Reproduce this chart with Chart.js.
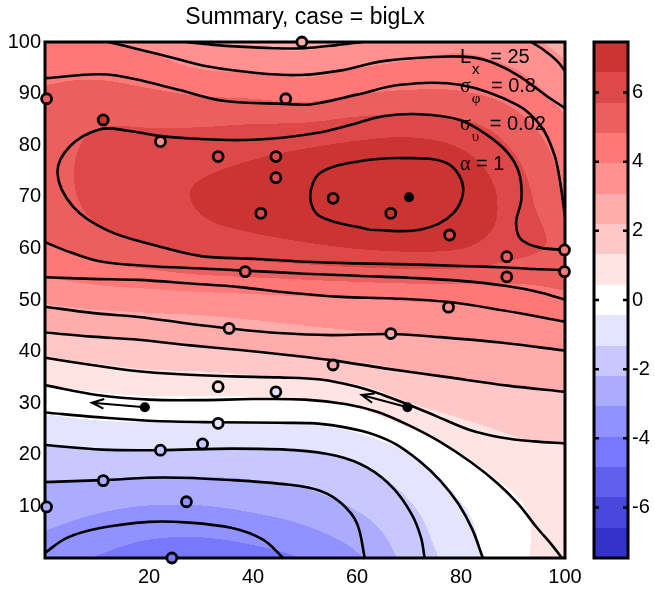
<!DOCTYPE html>
<html>
<head>
<meta charset="utf-8">
<script src="https://cdn.jsdelivr.net/npm/chart.js@4.4.0/dist/chart.umd.min.js"></script>
<style>
  html, body { margin: 0; padding: 0; background: #fff; }
</style>
</head>
<body>
<canvas id="chart" width="655" height="589"></canvas>
<script>
// ---- data ----
var titleText = 'Summary, case = bigLx';
var xTicks = [20, 40, 60, 80, 100];
var yTicks = [10, 20, 30, 40, 50, 60, 70, 80, 90, 100];
var cbTicks = [-6, -4, -2, 0, 2, 4, 6];

// filled field, one row per y value, columns at gridX
var gridX = [0, 10, 20, 30, 40, 50, 60, 70, 80, 90, 100];
var gridY = [0, 10, 20, 30, 40, 50, 60, 70, 80, 90, 100];
var field = [
  [-3.6, -4.0, -4.4, -4.5, -4.3, -3.9, -3.2, -1.9, -0.9, 0.2, 0.8],
  [-2.6, -2.9, -3.1, -3.1, -2.9, -2.6, -2.1, -1.4, -0.5, 0.3, 0.8],
  [-1.6, -1.5, -1.5, -1.5, -1.5, -1.4, -1.1, -0.5, 0.4, 1.0, 1.2],
  [-0.1, 0.1, 0.2, 0.2, 0.2, 0.3, 0.6, 1.3, 1.7, 1.9, 2.0],
  [1.5, 1.7, 1.9, 2.0, 2.2, 2.4, 2.55, 2.7, 2.8, 2.9, 3.0],
  [3.2, 3.4, 3.5, 3.6, 3.7, 3.8, 3.9, 4.0, 4.1, 4.25, 4.6],
  [4.7, 5.2, 5.6, 6.0, 6.2, 6.4, 6.6, 6.7, 6.6, 6.0, 5.5],
  [5.1, 6.0, 6.3, 6.65, 6.9, 7.1, 7.3, 7.4, 7.25, 6.2, 4.8],
  [5.15, 5.9, 6.0, 6.1, 6.3, 6.5, 6.7, 6.8, 6.5, 5.6, 4.4],
  [4.9, 5.1, 4.95, 4.75, 4.65, 4.5, 4.8, 4.95, 4.9, 4.5, 3.6],
  [4.3, 4.0, 3.7, 3.0, 2.85, 2.8, 3.1, 3.4, 3.7, 3.4, 2.8]
];
var bandLimit = 7.46;
var bandColors = ['#3333cc', '#4848dd', '#5f5feb', '#7878ff', '#9191ff', '#acacff', '#c8c8ff', '#e4e4ff',
  '#ffffff', '#ffe4e4', '#ffc8c8', '#ffacac', '#ff9191', '#ff7878', '#eb5f5f', '#dd4848', '#cc3333'];

// contour lines (x, y points)
var lineK0 = [[0,1],[4.2,3.9],[10.6,5.8],[20,7],[27,6.9],[36,5.8],[42,3.5],[45.8,0]];
var lineK1 = [[0,14.7],[11,15.1],[23,15.6],[36,15.1],[47,14.2],[53,13],[57,10.6],[60,6.7],[61.5,0]];
var lineK2 = [[0,21.9],[11,21],[22,20.9],[36,21.2],[48,20.9],[56,19.8],[62,17.5],[67,13.5],[70.5,8.5],[72.3,4],[73,0]];
var lineK3 = [[0,28.2],[10,27.3],[20,26.6],[33.3,26.3],[45,26.2],[53,26],[61,24.6],[67,22.3],[72,18.8],[76,15],[79.5,10.5],[82.2,5.5],[84.2,0]];
var lineK4 = [[0,33.5],[10,31.6],[20,30.7],[30,30.6],[40,30.8],[50,30.7],[58,29.8],[64,28.3],[70,25.7],[76,22.5],[82,18.5],[87,14.5],[91,10.5],[94.5,6],[97.5,2.5],[99.4,0]];
var lineK5 = [[0,38.8],[9,37.4],[17,36.3],[26,35.6],[36,35.2],[45,35],[53,34.6],[60,33.2],[65,31.6],[69.7,29.8],[75,27.6],[81.7,24.8],[88,23.3],[94,22.6],[100,22.2]];
var lineK6 = [[0,43.7],[9,42.9],[18,42.3],[28,41.2],[37.5,40.3],[47,39.3],[55.4,38.3],[65,36.8],[77,35.1],[89,33.4],[100,32.2]];
var lineK7 = [[0,48.7],[9,47.5],[18,46.7],[27,45.5],[35.4,44.5],[45,43.6],[55,43.2],[66.5,43.4],[76,42.8],[88,41.7],[100,40.2]];
var lineK7Top = [[27.2,100],[32,99.5],[37.5,99.1],[44,98.8],[50,98.8],[56,99.4],[61,100]];
var lineK7Corner = [[93.5,100],[96,98.4],[98.5,96.3],[100,94.4]];
var lineK8 = [[0,54.4],[9,54.1],[18,53.9],[28,53.2],[37.5,52.5],[47,51.4],[57,50.6],[67,50.3],[77.6,49.6],[88,48],[100,45.8]];
var lineK8Top = [[12.2,100],[18.3,98.5],[24.7,96.9],[31.1,95.3],[40.7,94],[49,93.6],[57,94.5],[65,96.3],[77.9,97.2],[84.3,96.6],[90.7,93.7],[97.1,89.1],[100,87.2]];
var lineK9 = [[0,61.2],[5,59.2],[11,57.4],[20,56.6],[30,56.1],[38.5,55.7],[50,55.1],[60,54.7],[70,54.3],[80,53.7],[88.8,52.7],[95,51.5],[100,50.1]];
var lineK9Top = [[0,93],[12,93.7],[24.7,91],[34.3,88.6],[46.3,88],[51,87.9],[60,89.8],[68.3,91.7],[79.8,91.7],[90.8,87.8],[95.5,83.5],[98,78],[99.2,72],[100,66]];
var lineK10 = [[100,55.8],[94,56],[88.8,56.3],[80,56.6],[70,56.9],[60,57.1],[50,57.4],[40,58],[30,58.5],[21.5,60.5],[12,63.5],[5.4,68.1],[2.4,74.6],[4.8,79.8],[10.6,83.1],[16,82.8],[22,81.8],[30,81.2],[38,81],[46,81.5],[53,82.5],[59,84],[65,85.6],[72,86],[79.8,84.9],[85,82],[89,78.5],[91.2,74.5],[91.6,69.5],[90.6,65],[91.5,61.8],[95,60.2],[100,59.7]];
var lineK11 = [[62.5,63.6],[52.9,66.2],[51,70],[52.9,74.6],[60,76.8],[68.8,77.5],[77.3,76.5],[80.4,72],[78.5,66.8],[72.1,63.6],[62.5,63.6]];
var contourLines = [lineK0, lineK1, lineK2, lineK3, lineK4, lineK5, lineK6, lineK7, lineK7Top, lineK7Corner,
  lineK8, lineK8Top, lineK9, lineK9Top, lineK10, lineK11];

// observations (open circles, filled with their value)
var obsX = [49.4, 0.3, 46.3, 11.2, 22.2, 33.3, 44.4, 44.4, 41.5, 55.4, 66.5, 77.8, 88.8, 88.8, 99.9, 99.9, 38.5, 77.6, 35.4, 66.5, 55.4, 33.3, 44.4, 33.3, 30.3, 22.2, 11.2, 0.3, 27.2, 24.4];
var obsY = [100, 89, 89, 84.9, 80.7, 77.8, 77.8, 73.7, 66.8, 69.7, 66.8, 62.6, 58.4, 54.5, 59.7, 55.5, 55.5, 48.6, 44.5, 43.5, 37.4, 33.2, 32.2, 26.1, 22.1, 20.9, 15, 9.9, 10.9, 0];
var obsVal = [2.9, 5.0, 4.6, 6.9, 3.6, 6.0, 6.2, 6.2, 6.2, 7.0, 7.0, 6.3, 5.3, 5.0, 4.5, 4.5, 5.2, 3.6, 2.8, 3.0, 2.3, 0.9, -0.9, -0.6, -1.5, -1.5, -2.4, -2.6, -3.4, -4.4];

// filled dots and their arrows
var dotX = [70, 19.2, 69.7];
var dotY = [69.9, 29.2, 29.2];
var arrowFromX = [19.2, 69.7];
var arrowFromY = [29.2, 29.2];
var arrowToX = [9, 60.9];
var arrowToY = [30.1, 31.6];

// parameter text
var annoX = 79.8;
var annoY = [95.9, 90.3, 82.9, 75.2];
var annoMain = ['L', 'σ', 'σ', 'α'];
var annoSub = ['x', 'φ', 'υ', ''];
var annoRest = [' = 25', ' = 0.8', ' = 0.02', ' = 1'];

// ---- helpers ----
var SANS = '"Liberation Sans", Arial, sans-serif';
var SERIF = '"Liberation Serif", "Times New Roman", serif';

function bandIndex(v) {
  var step = 2 * bandLimit / bandColors.length;
  var b = Math.floor((v + bandLimit) / step);
  return Math.max(0, Math.min(bandColors.length - 1, b));
}
function colorFor(v) { return bandColors[bandIndex(v)]; }
function hexToRgb(h) {
  return [parseInt(h.substr(1, 2), 16), parseInt(h.substr(3, 2), 16), parseInt(h.substr(5, 2), 16)];
}
function gridValue(j, i) {
  var nx = gridX.length, ny = gridY.length;
  if (j < 0) return 2 * gridValue(0, i) - gridValue(1, i);
  if (j > ny - 1) return 2 * gridValue(ny - 1, i) - gridValue(ny - 2, i);
  if (i < 0) return 2 * field[j][0] - field[j][1];
  if (i > nx - 1) return 2 * field[j][nx - 1] - field[j][nx - 2];
  return field[j][i];
}
function cubic(p0, p1, p2, p3, t) {
  return p1 + 0.5 * t * (p2 - p0 + t * (2 * p0 - 5 * p1 + 4 * p2 - p3 + t * (3 * (p1 - p2) + p3 - p0)));
}
function sampleField(x, y) {
  var fx = (x - gridX[0]) / (gridX[1] - gridX[0]);
  var fy = (y - gridY[0]) / (gridY[1] - gridY[0]);
  var i = Math.min(Math.max(Math.floor(fx), 0), gridX.length - 2);
  var j = Math.min(Math.max(Math.floor(fy), 0), gridY.length - 2);
  var tx = fx - i, ty = fy - j;
  var col = [];
  for (var m = -1; m <= 2; m++) {
    col.push(cubic(gridValue(j + m, i - 1), gridValue(j + m, i), gridValue(j + m, i + 1), gridValue(j + m, i + 2), tx));
  }
  return cubic(col[0], col[1], col[2], col[3], ty);
}

// ---- plugins ----
var fieldPlugin = {
  id: 'field',
  beforeDatasetsDraw: function (chart) {
    var ctx = chart.ctx, a = chart.chartArea;
    var xs = chart.scales.x, ys = chart.scales.y;
    var left = Math.round(a.left), top = Math.round(a.top);
    var w = Math.round(a.right) - left, h = Math.round(a.bottom) - top;
    var img = ctx.createImageData(w, h);
    var rgb = bandColors.map(hexToRgb);
    for (var py = 0; py < h; py++) {
      var yv = ys.getValueForPixel(top + py + 0.5);
      for (var px = 0; px < w; px++) {
        var c = rgb[bandIndex(sampleField(xs.getValueForPixel(left + px + 0.5), yv))];
        var k = (py * w + px) * 4;
        img.data[k] = c[0]; img.data[k + 1] = c[1]; img.data[k + 2] = c[2]; img.data[k + 3] = 255;
      }
    }
    ctx.putImageData(img, left, top);

    // axes box
    ctx.save();
    ctx.lineWidth = 3;
    ctx.strokeStyle = '#000';
    ctx.strokeRect(a.left, a.top, a.right - a.left, a.bottom - a.top);

    // colorbar
    var cb = chart.scales.cb;
    var x0 = Math.round(cb.left + 29), x1 = Math.round(cb.left + 63);
    var step = 2 * bandLimit / bandColors.length;
    bandColors.forEach(function (col, b) {
      var yTop = Math.round(cb.getPixelForValue(-bandLimit + (b + 1) * step));
      var yBot = Math.round(cb.getPixelForValue(-bandLimit + b * step));
      ctx.fillStyle = col;
      ctx.fillRect(x0, yTop, x1 - x0, yBot - yTop);
    });
    ctx.strokeRect(x0, cb.top, x1 - x0, cb.bottom - cb.top);
    ctx.lineWidth = 2.5;
    cbTicks.forEach(function (v) {
      var y = cb.getPixelForValue(v);
      ctx.beginPath();
      ctx.moveTo(x0, y); ctx.lineTo(x0 + 5, y);
      ctx.moveTo(x1, y); ctx.lineTo(x1 - 5, y);
      ctx.stroke();
    });
    ctx.restore();
  },
  afterDatasetsDraw: function (chart) {
    var ctx = chart.ctx, xs = chart.scales.x, ys = chart.scales.y;
    ctx.save();
    ctx.strokeStyle = '#000';
    ctx.lineWidth = 2;
    for (var n = 0; n < arrowFromX.length; n++) {
      var sx = xs.getPixelForValue(arrowFromX[n]), sy = ys.getPixelForValue(arrowFromY[n]);
      var ex = xs.getPixelForValue(arrowToX[n]), ey = ys.getPixelForValue(arrowToY[n]);
      var ang = Math.atan2(ey - sy, ex - sx), len = 13, spread = 0.38;
      ctx.beginPath();
      ctx.moveTo(sx, sy); ctx.lineTo(ex, ey);
      ctx.moveTo(ex - len * Math.cos(ang - spread), ey - len * Math.sin(ang - spread));
      ctx.lineTo(ex, ey);
      ctx.lineTo(ex - len * Math.cos(ang + spread), ey - len * Math.sin(ang + spread));
      ctx.stroke();
    }

    // parameter text
    ctx.fillStyle = '#000';
    ctx.textBaseline = 'alphabetic';
    ctx.textAlign = 'left';
    for (var t = 0; t < annoMain.length; t++) {
      var x = xs.getPixelForValue(annoX), y = ys.getPixelForValue(annoY[t]);
      ctx.font = '20px ' + (t === 0 ? SANS : SERIF);
      ctx.fillText(annoMain[t], x, y);
      x += ctx.measureText(annoMain[t]).width;
      if (annoSub[t]) {
        ctx.font = '15px ' + (t === 0 ? SANS : SERIF);
        ctx.fillText(annoSub[t], x + 1, y + 11);
        x += ctx.measureText(annoSub[t]).width + 6;
      }
      ctx.font = '20px ' + SANS;
      ctx.fillText(annoRest[t], x, y);
    }
    ctx.restore();
  }
};

// ---- chart ----
var datasets = [];
datasets.push({
  data: dotX.map(function (x, i) { return { x: x, y: dotY[i] }; }),
  pointRadius: 5, pointHoverRadius: 5, pointBackgroundColor: '#000', pointBorderWidth: 0,
  showLine: false, clip: false, order: 0
});
datasets.push({
  data: obsX.map(function (x, i) { return { x: x, y: obsY[i] }; }),
  pointRadius: 5, pointHoverRadius: 5, pointBorderColor: '#000', pointBorderWidth: 2.8,
  pointBackgroundColor: obsVal.map(colorFor),
  showLine: false, clip: false, order: 1
});
contourLines.forEach(function (pts) {
  datasets.push({
    data: pts.map(function (p) { return { x: p[0], y: p[1] }; }),
    showLine: true, borderColor: '#000', borderWidth: 2.6, pointRadius: 0, pointHoverRadius: 0,
    tension: 0.35, fill: false, order: 2
  });
});

var tickFont = { family: SANS, size: 20 };

new Chart(document.getElementById('chart'), {
  type: 'scatter',
  data: { datasets: datasets },
  options: {
    responsive: false,
    animation: false,
    events: [],
    layout: { padding: 0 },
    plugins: {
      legend: { display: false },
      tooltip: { enabled: false },
      title: {
        display: true, text: titleText, fullSize: false, color: '#000',
        font: { family: SANS, size: 23, weight: 'normal' },
        padding: { top: 4, bottom: 10.4 }
      }
    },
    scales: {
      x: {
        type: 'linear', position: 'bottom', min: 0, max: 100,
        grid: { display: false, drawTicks: false }, border: { display: false },
        ticks: { color: '#000', font: tickFont, padding: 7, maxRotation: 0 },
        afterBuildTicks: function (s) { s.ticks = xTicks.map(function (v) { return { value: v }; }); },
        afterFit: function (s) { s.height = 31; }
      },
      y: {
        type: 'linear', position: 'left', min: 0, max: 100,
        grid: { display: false, drawTicks: false }, border: { display: false },
        ticks: { color: '#000', font: tickFont, padding: 4 },
        afterBuildTicks: function (s) { s.ticks = yTicks.map(function (v) { return { value: v }; }); },
        afterFit: function (s) { s.width = 45; }
      },
      cb: {
        axis: 'y', type: 'linear', position: 'right', min: -bandLimit, max: bandLimit,
        grid: { display: false, drawTicks: true, tickLength: 63 }, border: { display: false },
        ticks: { color: '#000', font: tickFont, padding: 4 },
        afterBuildTicks: function (s) { s.ticks = cbTicks.map(function (v) { return { value: v }; }); },
        afterFit: function (s) { s.width = 90; }
      }
    }
  },
  plugins: [fieldPlugin]
});
</script>
</body>
</html>
